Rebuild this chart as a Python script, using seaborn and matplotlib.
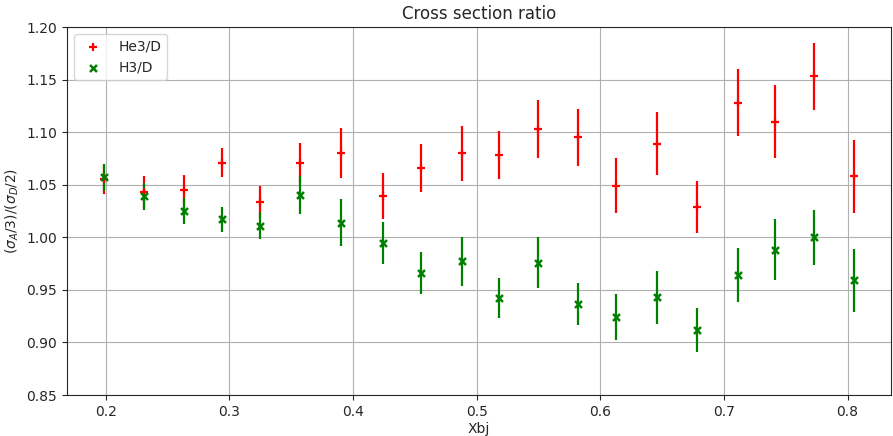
import numpy as np
import pandas as pd
import seaborn as sns
import matplotlib
matplotlib.use("Agg")
import matplotlib.pyplot as plt

xbj = [0.199, 0.231, 0.263, 0.294, 0.325, 0.357, 0.390, 0.424, 0.455, 0.488,
       0.518, 0.550, 0.582, 0.613, 0.646, 0.678, 0.711, 0.741, 0.773, 0.805]

he3_ratio = [1.055, 1.043, 1.045, 1.071, 1.034, 1.071, 1.080, 1.039, 1.066, 1.080,
             1.078, 1.103, 1.095, 1.049, 1.089, 1.029, 1.128, 1.110, 1.153, 1.058]
he3_err = [0.014, 0.015, 0.014, 0.014, 0.015, 0.019, 0.024, 0.022, 0.023, 0.026,
           0.023, 0.028, 0.027, 0.026, 0.030, 0.025, 0.032, 0.035, 0.032, 0.035]

h3_ratio = [1.057, 1.039, 1.025, 1.017, 1.011, 1.040, 1.014, 0.995, 0.966, 0.977,
            0.942, 0.976, 0.937, 0.924, 0.943, 0.912, 0.964, 0.988, 1.000, 0.959]
h3_err = [0.013, 0.013, 0.012, 0.012, 0.013, 0.018, 0.022, 0.020, 0.020, 0.023,
          0.019, 0.024, 0.020, 0.022, 0.025, 0.021, 0.026, 0.029, 0.026, 0.030]

sns.set_style("ticks")
plt.rcParams["font.family"] = ["DejaVu Sans"]

fig, ax = plt.subplots(figsize=(8.93, 4.36), dpi=100)

# error bars first, markers on top
ax.errorbar(xbj, he3_ratio, yerr=he3_err, fmt="none", ecolor="red", elinewidth=1.6)
ax.errorbar(xbj, h3_ratio, yerr=h3_err, fmt="none", ecolor="green", elinewidth=1.6)

sns.scatterplot(x=xbj, y=he3_ratio, ax=ax, marker="+", color="red", s=30,
                linewidth=1.6, label="He3/D", zorder=3)
sns.scatterplot(x=xbj, y=h3_ratio, ax=ax, marker="x", color="green", s=25,
                linewidth=1.8, label="H3/D", zorder=3)

ax.set_ylim(0.85, 1.20)
ax.set_yticks(np.arange(0.85, 1.2001, 0.05))
ax.set_xticks([0.2, 0.3, 0.4, 0.5, 0.6, 0.7, 0.8])
ax.margins(x=0.05)
ax.grid(True, color="#b0b0b0", linewidth=0.8)
ax.set_axisbelow(True)

ax.set_title("Cross section ratio", fontsize=12)
ax.set_xlabel("Xbj", fontsize=10, labelpad=2)
ax.set_ylabel(r"$(\sigma_A/3)/(\sigma_D/2)$", fontsize=10)
ax.tick_params(labelsize=10, length=3.5, width=0.8, pad=3.5)
for s in ax.spines.values():
    s.set_linewidth(0.8)

ax.legend(loc="upper left", fontsize=10, frameon=True)

plt.subplots_adjust(left=0.075, right=0.998, top=0.938, bottom=0.094)
plt.savefig("out.png", dpi=100)
